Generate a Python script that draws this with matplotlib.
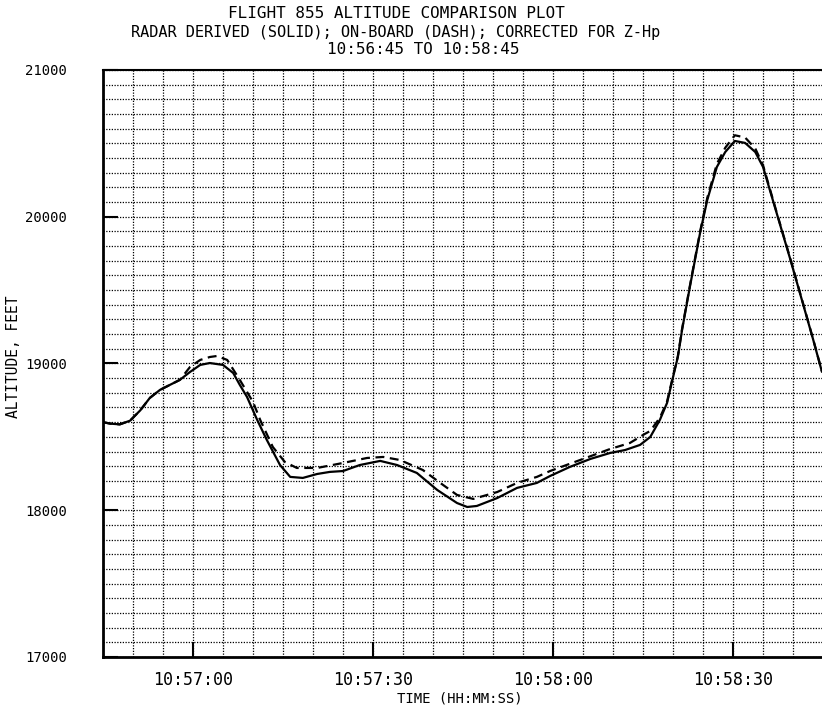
import matplotlib
matplotlib.use("Agg")
import matplotlib.pyplot as plt
from matplotlib.ticker import MultipleLocator, FuncFormatter

# seconds after 10:56:45, altitude in feet
radar_t = [0, 1.2, 2.8, 4.5, 6.2, 7.8, 9.5, 12.8, 14.5, 16.2, 17.8, 20.0,
           21.7, 22.8, 24.0, 25.7, 27.3, 29.5, 31.2, 33.3, 35.7, 37.8, 40.0,
           42.8, 46.2, 49.0, 52.3, 55.7, 59.0, 60.7, 62.3, 65.7, 69.0, 72.3,
           74.5, 77.8, 81.2, 84.5, 87.0, 89.5, 91.2, 92.8, 94.0, 95.0, 95.8,
           96.5, 97.8, 99.5, 100.7, 102.3, 103.7, 105.3, 107.0, 108.7, 110.0,
           112.3, 114.5, 116.7, 118.3, 119.8]
radar_alt = [18600, 18590, 18585, 18610, 18680, 18765, 18820, 18888, 18942,
             18990, 19003, 18990, 18935, 18854, 18772, 18615, 18479, 18308,
             18227, 18220, 18247, 18261, 18267, 18308, 18336, 18308, 18254,
             18138, 18049, 18022, 18029, 18083, 18152, 18186, 18233, 18295,
             18349, 18390, 18410, 18445, 18499, 18615, 18731, 18908, 19044,
             19228, 19521, 19889, 20114, 20339, 20441, 20516, 20503, 20441,
             20339, 20020, 19715, 19400, 19170, 18945]

onboard_t = [0, 1.2, 2.8, 4.5, 6.2, 7.8, 9.5, 12.8, 14.5, 16.2, 17.8, 19.0,
             20.7, 22.8, 25.0, 26.2, 28.3, 30.3, 32.3, 35.7, 40.0, 44.0, 46.7,
             49.5, 53.3, 56.2, 59.0, 61.7, 65.7, 69.0, 72.3, 74.5, 79.5, 84.5,
             87.8, 90.3, 91.2, 92.8, 94.0, 95.0, 95.8, 96.5, 97.8, 99.5, 100.7,
             102.3, 103.7, 105.3, 107.0, 108.7, 110.0, 112.3, 114.5, 116.7,
             118.3, 119.8]
onboard_alt = [18600, 18590, 18585, 18610, 18680, 18765, 18820, 18888, 18976,
               19024, 19044, 19051, 19024, 18888, 18738, 18615, 18431, 18329,
               18288, 18288, 18322, 18356, 18363, 18342, 18274, 18186, 18104,
               18077, 18124, 18186, 18227, 18267, 18342, 18417, 18458, 18520,
               18540, 18630, 18740, 18915, 19050, 19235, 19528, 19898, 20128,
               20360, 20470, 20555, 20540, 20465, 20350, 20025, 19720, 19404,
               19172, 18948]

start_sec = 10 * 3600 + 56 * 60 + 45


def hms(x, pos):
    s = int(round(start_sec + x))
    return "%02d:%02d:%02d" % (s // 3600, (s // 60) % 60, s % 60)


mono = "DejaVu Sans Mono"
fig = plt.figure(figsize=(8.22, 7.11), dpi=100)
ax = fig.add_axes([0.1253, 0.076, 0.8760, 0.8256])

ax.plot(onboard_t, onboard_alt, color="black", lw=1.6, dashes=(4, 2.5))
ax.plot(radar_t, radar_alt, color="black", lw=1.6)

ax.set_xlim(0, 120)
ax.set_ylim(17000, 21000)

ax.xaxis.set_major_formatter(FuncFormatter(hms))
ax.set_xticks([15, 45, 75, 105])
ax.xaxis.set_minor_locator(MultipleLocator(5))
ax.yaxis.set_major_locator(MultipleLocator(1000))
ax.yaxis.set_minor_locator(MultipleLocator(100))

ax.grid(which="both", color="black", linestyle=(0, (1, 1.2)), linewidth=0.9)
ax.tick_params(which="major", direction="in", length=11, width=1.5)
ax.tick_params(which="minor", length=0)
ax.tick_params(axis="y", pad=26, labelsize=10)
ax.tick_params(axis="x", pad=10, labelsize=12)
for lab in ax.get_xticklabels() + ax.get_yticklabels():
    lab.set_family(mono)

ax.spines["right"].set_visible(False)
ax.spines["left"].set_linewidth(2)
ax.spines["bottom"].set_linewidth(2)
ax.spines["top"].set_linewidth(1.5)

fig.text(396 / 822, 1 - 13 / 711, "FLIGHT 855 ALTITUDE COMPARISON PLOT",
         ha="center", va="center", family=mono, fontsize=11.5)
fig.text(396 / 822, 1 - 32 / 711,
         "RADAR DERIVED (SOLID); ON-BOARD (DASH); CORRECTED FOR Z-Hp",
         ha="center", va="center", family=mono, fontsize=11)
fig.text(423 / 822, 1 - 50 / 711, "10:56:45 TO 10:58:45",
         ha="center", va="center", family=mono, fontsize=11.5)
fig.text(460 / 822, 1 - 698 / 711, "TIME (HH:MM:SS)", ha="center",
         va="center", family=mono, fontsize=10)
fig.text(13 / 822, 1 - 357 / 711, "ALTITUDE, FEET", ha="center", va="center",
         rotation=90, family=mono, fontsize=10.5)

fig.savefig("out.png", dpi=100)
